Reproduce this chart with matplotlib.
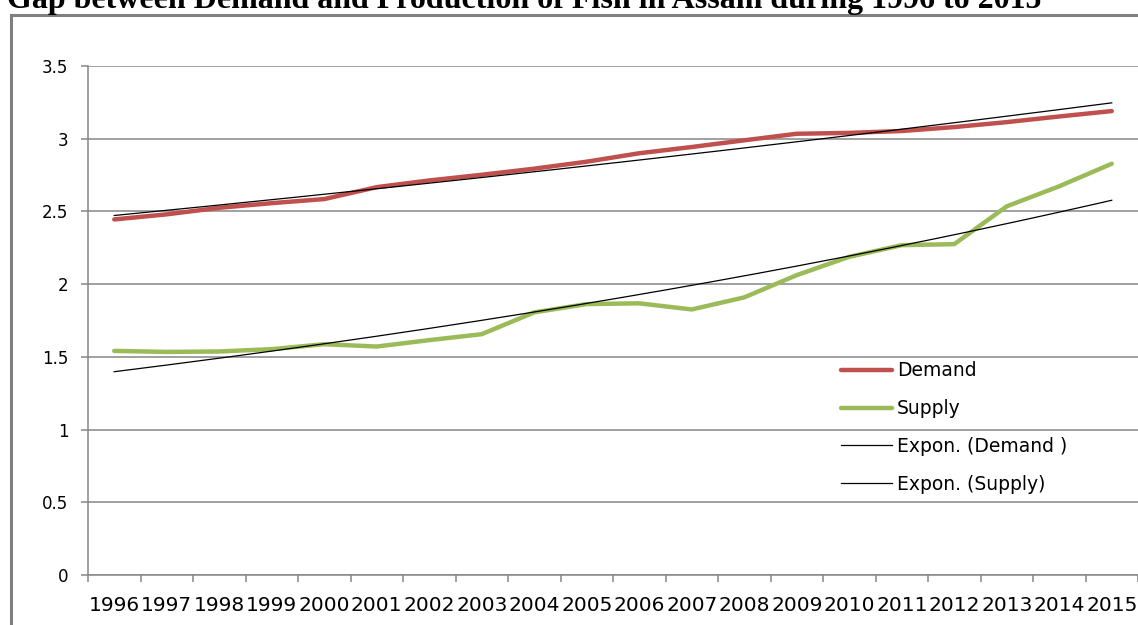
import numpy as np
import matplotlib
matplotlib.use('Agg')
import matplotlib.pyplot as plt
from matplotlib.lines import Line2D

plt.rcParams['font.family'] = ['DejaVu Sans']

# Values (million tonnes per year)
years = ['1996', '1997', '1998', '1999', '2000', '2001', '2002', '2003', '2004', '2005',
         '2006', '2007', '2008', '2009', '2010', '2011', '2012', '2013', '2014', '2015']
demand = [2.445, 2.48, 2.525, 2.557, 2.585, 2.667, 2.713, 2.752, 2.794, 2.842,
          2.90, 2.943, 2.989, 3.034, 3.04, 3.053, 3.08, 3.114, 3.153, 3.19]
supply = [1.541, 1.534, 1.537, 1.553, 1.587, 1.571, 1.615, 1.656, 1.806, 1.863,
          1.868, 1.826, 1.909, 2.062, 2.188, 2.268, 2.275, 2.535, 2.673, 2.828]
yticks = [0, 0.5, 1, 1.5, 2, 2.5, 3, 3.5]
ytick_labels = ['0', '0.5', '1', '1.5', '2', '2.5', '3', '3.5']


# Excel-style exponential trendline, x = 1..n
def expon(values, xs):
    n = np.arange(1, len(values) + 1)
    b, ln_a = np.polyfit(n, np.log(values), 1)
    return np.exp(ln_a) * np.exp(b * xs)


fig = plt.figure(figsize=(11.38, 6.25), dpi=100)
ax = fig.add_axes([88 / 1138, 50 / 625, 1050 / 1138, 509 / 625])

pos = np.arange(len(years)) + 0.5
ax.plot(pos, demand, color='#C0504D', lw=3.2, label='Demand', solid_capstyle='round', zorder=3)
ax.plot(pos, supply, color='#9BBB59', lw=3.2, label='Supply', solid_capstyle='round', zorder=3)

fine = np.linspace(1, len(years), 200)
ax.plot(fine - 0.5, expon(demand, fine), color='black', lw=0.9, label='Expon. (Demand )', zorder=4)
ax.plot(fine - 0.5, expon(supply, fine), color='black', lw=0.9, label='Expon. (Supply)', zorder=4)

ax.set_xlim(0, len(years))
ax.set_ylim(0, 3.5)
ax.set_yticks(yticks)
ax.set_yticklabels(ytick_labels, fontsize=12)
ax.yaxis.grid(True, color='#868686', lw=1.1)
ax.set_axisbelow(True)

# boundaries get the tick marks, category centres get the labels
ax.set_xticks(np.arange(len(years) + 1))
ax.set_xticklabels([])
ax.set_xticks(pos, minor=True)
ax.set_xticklabels(years, minor=True, fontsize=14.5)
ax.tick_params(axis='x', which='major', length=5, color='#868686', width=1.1)
ax.tick_params(axis='x', which='minor', length=0, pad=15)
ax.tick_params(axis='y', length=5, color='#868686', width=1.1, pad=9)

for s in ['top', 'right']:
    ax.spines[s].set_visible(False)
for s in ['left', 'bottom']:
    ax.spines[s].set_color('#868686')
    ax.spines[s].set_linewidth(1.1)

ax.legend(loc='upper left', bbox_to_anchor=(832 / 1138, 1 - 352 / 625),
          bbox_transform=fig.transFigure, frameon=False, fontsize=13.5,
          borderpad=0, handlelength=2.7, handletextpad=0.25, labelspacing=1.0)

# outer chart border (partly cut off in the reference)
fig.add_artist(Line2D([11 / 1138, 11 / 1138], [0, 1 - 15 / 625], color='#7f7f7f', lw=2.2))
fig.add_artist(Line2D([11 / 1138, 1], [1 - 15 / 625, 1 - 15 / 625], color='#7f7f7f', lw=2.2))

fig.text(7 / 1138, 1 - 8 / 625, 'Gap between Demand and Production of Fish in Assam during 1996 to 2015',
         family='Liberation Serif', fontweight='bold', fontsize=23, ha='left', va='baseline')

fig.savefig('out.png', dpi=100)
